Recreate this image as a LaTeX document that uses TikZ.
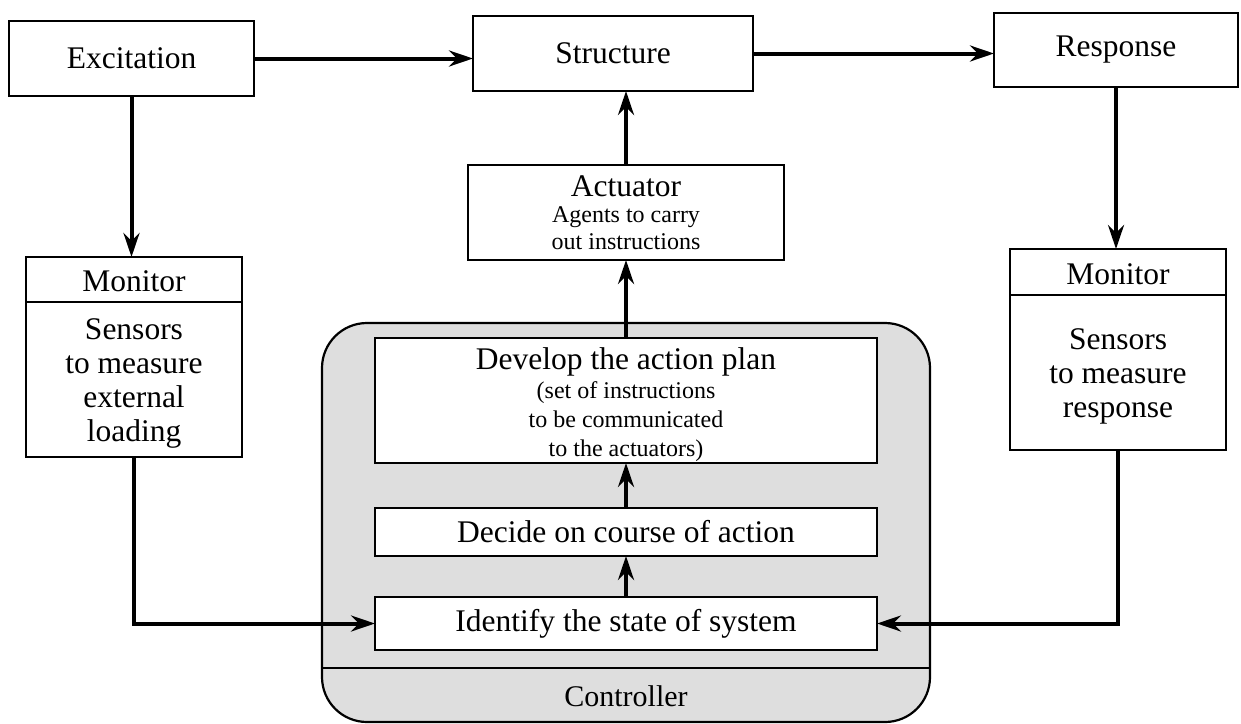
\documentclass[tikz,border=0pt]{standalone}
\usepackage{fontspec}
\setmainfont{Liberation Serif}
\usetikzlibrary{arrows.meta}
\newcommand{\bigf}{\fontsize{31.5}{34}\selectfont}
\newcommand{\smallf}{\fontsize{24}{29}\selectfont}
\newcommand{\topstrut}{\rule{0pt}{29.5pt}}
\tikzset{
  box/.style={draw, line width=2.2pt, fill=white, inner sep=0pt, outer sep=0pt, align=center, font=\bigf},
  arr/.style={line width=4pt, -{Stealth[length=24pt,width=16pt,inset=8pt]}},
  ctrlbox/.style={draw, line width=2.2pt, fill=black!13, rounded corners=45pt, inner sep=0pt, outer sep=0pt},
}
\begin{document}
\begin{tikzpicture}[x=1pt,y=-1pt]
\useasboundingbox (0,0) rectangle (1241,723);
% top row
\node[box, minimum width=245pt, minimum height=75pt] (exc) at (131.5,58.5) {Excitation};
\node[box, minimum width=280pt, minimum height=75pt] (str) at (613,53.5) {Structure};
\node[box, minimum width=244pt, minimum height=74pt] (resp) at (1116,50) {Response};
% monitors
\node[box, minimum width=216pt, minimum height=45pt] (mon1h) at (134,279.5) {\rule{0pt}{25pt}Monitor};
\node[box, minimum width=216pt, minimum height=155pt] (mon1b) at (134,379.5) {\topstrut Sensors\\to measure\\external\\loading};
\node[box, minimum width=216pt, minimum height=46pt] (mon2h) at (1118,272) {\rule{0pt}{25pt}Monitor};
\node[box, minimum width=216pt, minimum height=155pt] (mon2b) at (1118,372.5) {\topstrut Sensors\\to measure\\response};
% actuator
\node[box, minimum width=316pt, minimum height=95pt, font=\fontsize{24}{26.5}\selectfont] (act) at (626,212.5) {{\bigf Actuator}\\Agents to carry\\out instructions};
% controller
\node[ctrlbox, minimum width=608pt, minimum height=399pt] (ctrl) at (626,522.5) {};
\node[box, minimum width=502pt, minimum height=125pt, font=\smallf] (dev) at (626,400.5) {{\bigf\topstrut Develop the action plan}\\(set of instructions\\to be communicated\\to the actuators)};
\node[box, minimum width=502pt, minimum height=48pt] (dec) at (626,532) {Decide on course of action};
\node[box, minimum width=502pt, minimum height=53pt] (idf) at (626,623.5) {Identify the state of system};
\draw[line width=2.2pt] (ctrl.west |- 0,668) -- (ctrl.east |- 0,668);
\node[font=\fontsize{30}{34}\selectfont, inner sep=0pt] (ctl) at (626,696) {Controller};
% connectors
\draw[arr] (exc.east) -- (exc.east -| str.west);
\draw[arr] (str.east) -- (str.east -| resp.west);
\draw[arr] (exc.south) -- (exc.south |- mon1h.north);
\draw[arr] (resp.south) -- (resp.south |- mon2h.north);
\draw[arr] (act.north) -- (act.north |- str.south);
\draw[arr] (dev.north) -- (act.south);
\draw[arr] (dec.north) -- (dev.south);
\draw[arr] (idf.north) -- (dec.south);
\draw[arr] (mon1b.south) |- (idf.west);
\draw[arr] (mon2b.south) |- (idf.east);
\end{tikzpicture}
\end{document}
